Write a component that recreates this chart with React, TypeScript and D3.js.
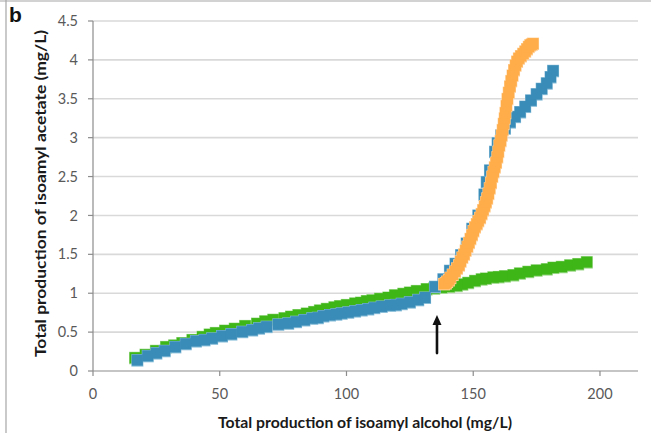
import React from "react";
import * as d3 from "d3";

// Total isoamyl alcohol (x) vs total isoamyl acetate (y), mg/L
const greenX = [16.6, 20.7, 24.8, 28.8, 32, 35.2, 39.2, 43.2, 46, 48.4, 52.1, 55.9, 60, 64.7, 67.9, 71.1, 75.5, 78.1, 81, 84.3, 87.2, 89.5, 92.2, 95.2, 97.4, 100.1, 103.4, 105.7, 108, 110.2, 113.2, 116.5, 119.1, 122.4, 125, 127.7, 131.6, 134.6, 137.5, 140.5, 143.5, 145.7, 148, 150.7, 153.3, 155, 157.9, 160, 162.5, 165.8, 168.4, 171.7, 175, 179, 181.6, 184.9, 188.2, 191.4, 194.8];
const greenY = [0.17, 0.21, 0.26, 0.31, 0.33, 0.36, 0.4, 0.44, 0.47, 0.49, 0.52, 0.545, 0.58, 0.61, 0.64, 0.66, 0.68, 0.7, 0.72, 0.74, 0.76, 0.78, 0.8, 0.82, 0.835, 0.85, 0.87, 0.88, 0.9, 0.91, 0.93, 0.945, 0.975, 0.994, 1.01, 1.03, 1.054, 1.063, 1.075, 1.085, 1.097, 1.115, 1.135, 1.16, 1.18, 1.19, 1.205, 1.21, 1.22, 1.234, 1.256, 1.277, 1.295, 1.31, 1.33, 1.34, 1.36, 1.376, 1.4];

const blueX = [17.5, 21.6, 25, 28.3, 32.5, 36.6, 40.6, 44, 47, 50.9, 54.6, 58.9, 62.8, 65.5, 68.5, 73.1, 77, 80.1, 83.4, 86.5, 88.7, 90.9, 93.5, 96, 98.1, 100.7, 103.4, 106, 108.6, 111, 113.9, 117.2, 119.5, 121.8, 125, 128.3, 131, 134.9, 138.2, 140.8, 143, 145.2, 147.4, 149.6, 152, 154.4, 155.3, 156.6, 158.6, 159.6, 161, 162.5, 164.5, 166.5, 168.5, 170.5, 172.8, 175, 177, 179, 180.5, 181.5];
const blueY = [0.14, 0.195, 0.23, 0.26, 0.31, 0.35, 0.385, 0.4, 0.42, 0.45, 0.475, 0.505, 0.527, 0.55, 0.57, 0.6, 0.613, 0.634, 0.656, 0.678, 0.685, 0.707, 0.72, 0.73, 0.742, 0.755, 0.77, 0.784, 0.797, 0.814, 0.83, 0.845, 0.85, 0.865, 0.885, 0.915, 0.945, 1.084, 1.18, 1.29, 1.38, 1.49, 1.64, 1.83, 2.0, 2.27, 2.43, 2.58, 2.82, 2.93, 3.03, 3.12, 3.2, 3.27, 3.33, 3.4, 3.48, 3.56, 3.63, 3.7, 3.78, 3.86];

const orangeX = [138.5, 139.2, 139.7, 140.4, 141, 141.9, 142.8, 143.6, 144.4, 145, 145.7, 146.4, 147, 147.7, 148.3, 148.9, 149.5, 150.1, 150.7, 151.4, 152, 152.7, 153.3, 153.9, 154.5, 155, 155.5, 156, 156.5, 157, 157.5, 158, 158.5, 159, 159.5, 159.9, 160.3, 160.8, 161.2, 161.6, 162, 162.4, 162.7, 163.1, 163.5, 164, 164.5, 165, 165.5, 166.1, 166.7, 167.3, 168, 168.8, 169.7, 170.5, 171.2, 171.9, 172.5, 173.1, 173.6];
const orangeY = [1.12, 1.13, 1.15, 1.17, 1.2, 1.24, 1.28, 1.32, 1.36, 1.41, 1.46, 1.5, 1.55, 1.6, 1.65, 1.7, 1.75, 1.8, 1.85, 1.89, 1.93, 1.97, 2.02, 2.07, 2.12, 2.17, 2.22, 2.28, 2.35, 2.42, 2.5, 2.56, 2.62, 2.68, 2.75, 2.82, 2.9, 2.96, 3.03, 3.1, 3.18, 3.25, 3.32, 3.41, 3.5, 3.58, 3.66, 3.73, 3.8, 3.87, 3.93, 3.98, 4.02, 4.05, 4.08, 4.11, 4.14, 4.17, 4.19, 4.2, 4.21];

const xTicks = [0, 50, 100, 150, 200];
const yTicks = [0, 0.5, 1, 1.5, 2, 2.5, 3, 3.5, 4, 4.5];

// event marker (arrow) in data units
const arrowX = 135.7;
const arrowFrom = 0.23;
const arrowTo = 0.72;

const series = [
  { xs: greenX, ys: greenY, fill: "#3fb618", edge: "#9bd888" },
  { xs: blueX, ys: blueY, fill: "#3a8cb8", edge: "#86bcd8" },
  { xs: orangeX, ys: orangeY, fill: "#ffad4a", edge: "#ffd09a" },
];

const W = 651;
const H = 433;

export default function App() {
  const x = d3.scaleLinear().domain([0, 215]).range([93, 638]);
  const y = d3.scaleLinear().domain([0, 4.5]).range([371, 21]);
  const ms = 11;
  const font = "Lato, 'Open Sans', sans-serif";

  const ax = x(arrowX);
  const ay0 = y(arrowFrom);
  const ay1 = y(arrowTo);

  return (
    <svg
      width={W}
      height={H}
      style={{ position: "absolute", left: 0, top: 0, background: "#fff" }}
    >
      <rect x={0} y={0} width={W} height={H} fill="#fff" />
      {/* frame */}
      <line x1={0} x2={W} y1={1} y2={1} stroke="#a6a6a6" strokeWidth={1.2} />
      <line x1={6} x2={6} y1={0} y2={H} stroke="#a6a6a6" strokeWidth={1.2} />
      <text x={9} y={22} fontFamily="'Liberation Sans', Arial, sans-serif" fontWeight="bold" fontSize={21} fill="#111">
        b
      </text>

      {/* grid */}
      {yTicks.filter((t) => t > 0).map((t) => (
        <line key={"g" + t} x1={x(0)} x2={x(215)} y1={y(t)} y2={y(t)} stroke="#d9d9d9" strokeWidth={1.6} />
      ))}

      {/* axes */}
      <line x1={x(0)} x2={x(0)} y1={y(4.5)} y2={y(0)} stroke="#8c8c8c" strokeWidth={1.2} />
      <line x1={x(0)} x2={x(215)} y1={y(0)} y2={y(0)} stroke="#8c8c8c" strokeWidth={1.2} />
      {yTicks.map((t) => (
        <g key={"y" + t}>
          <line x1={x(0) - 5} x2={x(0)} y1={y(t)} y2={y(t)} stroke="#8c8c8c" strokeWidth={1.2} />
          <text x={78} y={y(t)} dy="0.35em" textAnchor="end" fontFamily={font} fontSize={14.5} fill="#595959">
            {String(t)}
          </text>
        </g>
      ))}
      {xTicks.map((t) => (
        <g key={"x" + t}>
          <line x1={x(t)} x2={x(t)} y1={y(0)} y2={y(0) + 5} stroke="#8c8c8c" strokeWidth={1.2} />
          <text x={x(t)} y={394} dy="0.35em" textAnchor="middle" fontFamily={font} fontSize={14.5} fill="#595959">
            {String(t)}
          </text>
        </g>
      ))}

      {/* series markers: a pale offset edge under each band, then the filled squares */}
      {series.map((s, si) => (
        <g key={"s" + si}>
          {s.xs.map((xv, i) => (
            <rect
              key={"e" + i}
              x={x(xv) - ms / 2 - 0.5}
              y={y(s.ys[i]) - ms / 2 - 0.5}
              width={ms + 1}
              height={ms + 1.5}
              fill={s.edge}
            />
          ))}
          {s.xs.map((xv, i) => (
            <rect
              key={"m" + i}
              x={x(xv) - ms / 2}
              y={y(s.ys[i]) - ms / 2}
              width={ms}
              height={ms}
              fill={s.fill}
            />
          ))}
        </g>
      ))}

      {/* arrow */}
      <line x1={ax} x2={ax} y1={ay0} y2={ay1 + 8} stroke="#111" strokeWidth={2.6} strokeLinecap="round" />
      <path d={`M${ax},${ay1} L${ax - 4.5},${ay1 + 10} L${ax + 4.5},${ay1 + 10} Z`} fill="#111" />

      {/* axis titles */}
      <text
        x={365}
        y={423}
        dy="0.35em"
        textAnchor="middle"
        fontFamily={font}
        fontWeight="bold"
        fontSize={14.5}
        fill="#1a1a1a"
        textLength={294}
        lengthAdjust="spacingAndGlyphs"
      >
        Total production of isoamyl alcohol (mg/L)
      </text>
      <text
        transform={`translate(41,193.5) rotate(-90)`}
        dy="0.35em"
        textAnchor="middle"
        fontFamily={font}
        fontWeight="bold"
        fontSize={14.5}
        fill="#1a1a1a"
        textLength={327}
        lengthAdjust="spacingAndGlyphs"
      >
        Total production of isoamyl acetate (mg/L)
      </text>
    </svg>
  );
}
